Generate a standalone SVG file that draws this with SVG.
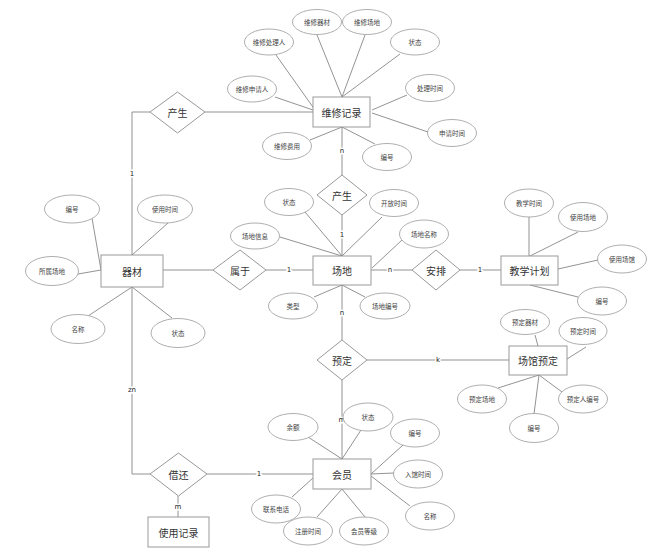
<svg xmlns="http://www.w3.org/2000/svg" width="667" height="553" viewBox="0 0 667 553">
<style>
.bg{fill:#fff}
.ent rect{fill:#fff;stroke:#999;stroke-width:1}
.rel polygon{fill:#fff;stroke:#999;stroke-width:1}
.att ellipse{fill:#fff;stroke:#999;stroke-width:0.8}
.et{font-family:"Noto Sans CJK SC","Noto Sans CJK JP",sans-serif;font-size:10px;fill:#333;text-anchor:middle;dominant-baseline:central}
.at{font-family:"Noto Sans CJK SC","Noto Sans CJK JP",sans-serif;font-size:6.5px;fill:#444;text-anchor:middle;dominant-baseline:central}
#conn line,#conn polyline{stroke:#777;stroke-width:0.8;fill:none}
.lb{font-family:"DejaVu Sans",sans-serif;font-size:7px;fill:#222;text-anchor:middle;dominant-baseline:central;stroke:#fff;stroke-width:3;paint-order:stroke}
</style>
<rect class="bg" width="667" height="553"/>
<g id="conn">
<!-- 维修记录 attrs -->
<line x1="317" y1="35" x2="342" y2="97"/>
<line x1="365" y1="35" x2="342" y2="97"/>
<line x1="400" y1="54" x2="342" y2="97"/>
<line x1="276" y1="55" x2="315" y2="110"/>
<line x1="275" y1="97" x2="313" y2="110"/>
<line x1="310" y1="140" x2="342" y2="127"/>
<line x1="375" y1="144" x2="342" y2="127"/>
<line x1="407" y1="95" x2="372" y2="110"/>
<line x1="428" y1="132" x2="372" y2="113"/>
<!-- 产生(top) -->
<polyline points="313,112 205,112"/>
<polyline points="150,112 132,112 132,255"/>
<!-- 维修记录 - 产生(mid) - 场地 -->
<line x1="342" y1="127" x2="342" y2="175"/>
<line x1="342" y1="215" x2="342" y2="256"/>
<!-- 场地 attrs -->
<line x1="305" y1="212" x2="342" y2="256"/>
<line x1="382" y1="217" x2="342" y2="256"/>
<line x1="280" y1="237" x2="342" y2="256"/>
<line x1="402" y1="240" x2="372" y2="268"/>
<line x1="314" y1="297" x2="342" y2="285"/>
<line x1="365" y1="297" x2="342" y2="285"/>
<!-- 器材 - 属于 - 场地 -->
<line x1="163" y1="270" x2="213" y2="270"/>
<line x1="266" y1="270" x2="313" y2="270"/>
<!-- 场地 - 安排 - 教学计划 -->
<line x1="371" y1="270" x2="412" y2="270"/>
<line x1="460" y1="270" x2="501" y2="270"/>
<!-- 教学计划 attrs -->
<line x1="529" y1="217" x2="529" y2="256"/>
<line x1="578" y1="232" x2="530" y2="256"/>
<line x1="598" y1="260" x2="558" y2="269"/>
<line x1="578" y1="297" x2="530" y2="285"/>
<!-- 场地 - 预定 -->
<line x1="342" y1="285" x2="342" y2="340"/>
<line x1="367" y1="360" x2="509" y2="360"/>
<line x1="342" y1="380" x2="342" y2="459"/>
<!-- 场馆预定 attrs -->
<line x1="535" y1="335" x2="538" y2="346"/>
<line x1="586" y1="347" x2="567" y2="359"/>
<line x1="498" y1="388" x2="539" y2="375"/>
<line x1="534" y1="414" x2="539" y2="375"/>
<line x1="562" y1="392" x2="539" y2="375"/>
<!-- 会员 attrs -->
<line x1="308" y1="437" x2="342" y2="459"/>
<line x1="361" y1="430" x2="342" y2="459"/>
<line x1="403" y1="445" x2="371" y2="474"/>
<line x1="394" y1="473" x2="371" y2="474"/>
<line x1="410" y1="506" x2="371" y2="476"/>
<line x1="292" y1="497" x2="313" y2="478"/>
<line x1="317" y1="517" x2="342" y2="489"/>
<line x1="365" y1="517" x2="342" y2="489"/>
<!-- 器材 attrs -->
<line x1="92" y1="218" x2="101" y2="270"/>
<line x1="168" y1="223" x2="132" y2="255"/>
<line x1="78" y1="274" x2="101" y2="270"/>
<line x1="88" y1="316" x2="132" y2="287"/>
<line x1="172" y1="318" x2="132" y2="287"/>
<!-- 器材 - 借还 - 会员 / 使用记录 -->
<polyline points="132,287 132,474 150,474"/>
<line x1="207" y1="474" x2="313" y2="474"/>
<line x1="178" y1="496" x2="178" y2="517"/>
<text class="lb" x="132" y="174">1</text>
<text class="lb" x="342" y="151">n</text>
<text class="lb" x="342" y="235">1</text>
<text class="lb" x="289" y="270">1</text>
<text class="lb" x="390" y="270">n</text>
<text class="lb" x="480" y="270">1</text>
<text class="lb" x="342" y="313">n</text>
<text class="lb" x="438" y="360">k</text>
<text class="lb" x="342" y="420">m</text>
<text class="lb" x="132" y="390">zn</text>
<text class="lb" x="259" y="474">1</text>
<text class="lb" x="178" y="507">m</text>
</g>
<!-- entities -->
<g id="weixiujilu" class="ent"><rect x="313" y="97" width="57" height="30"/><text class="et" x="341.5" y="112">维修记录</text></g>
<g id="changdi" class="ent"><rect x="313" y="256" width="58" height="29"/><text class="et" x="342" y="270.5">场地</text></g>
<g id="qicai" class="ent"><rect x="101" y="255" width="62" height="32"/><text class="et" x="132" y="271">器材</text></g>
<g id="jiaoxuejihua" class="ent"><rect x="501" y="256" width="57" height="29"/><text class="et" x="529.5" y="270.5">教学计划</text></g>
<g id="changguanyuding" class="ent"><rect x="509" y="346" width="58" height="29"/><text class="et" x="538" y="360.5">场馆预定</text></g>
<g id="huiyuan" class="ent"><rect x="313" y="459" width="58" height="30"/><text class="et" x="342" y="474">会员</text></g>
<g id="shiyongjilu" class="ent"><rect x="148" y="517" width="61" height="30"/><text class="et" x="178.5" y="532">使用记录</text></g>
<!-- relationships -->
<g id="chansheng1" class="rel"><polygon points="177.5,92 205,112 177.5,133 150,112"/><text class="et" x="177.5" y="112">产生</text></g>
<g id="chansheng2" class="rel"><polygon points="342,175 367,195 342,215 317,195"/><text class="et" x="342" y="195">产生</text></g>
<g id="shuyu" class="rel"><polygon points="240,250 266,270 240,290 213,270"/><text class="et" x="240" y="270">属于</text></g>
<g id="anpai" class="rel"><polygon points="436,250 460,270 436,290 412,270"/><text class="et" x="436" y="270">安排</text></g>
<g id="yuding" class="rel"><polygon points="342,340 367,360 342,380 317,360"/><text class="et" x="342" y="360">预定</text></g>
<g id="jiehuan" class="rel"><polygon points="178.5,453 207,474 178.5,496 150,474"/><text class="et" x="178.5" y="474">借还</text></g>
<!-- attributes of 维修记录 -->
<g id="a-wxqc" class="att"><ellipse cx="317" cy="22" rx="24.5" ry="12.5"/><text class="at" x="317" y="22">维修器材</text></g>
<g id="a-wxcd" class="att"><ellipse cx="367" cy="22" rx="24.5" ry="12.5"/><text class="at" x="367" y="22">维修场地</text></g>
<g id="a-wxclr" class="att"><ellipse cx="269" cy="42" rx="24.5" ry="13"/><text class="at" x="269" y="42">维修处理人</text></g>
<g id="a-wxzt" class="att"><ellipse cx="415" cy="42" rx="24.5" ry="13"/><text class="at" x="415" y="42">状态</text></g>
<g id="a-wxsqr" class="att"><ellipse cx="252" cy="89" rx="24.5" ry="13"/><text class="at" x="252" y="89">维修申请人</text></g>
<g id="a-clsj" class="att"><ellipse cx="430" cy="88" rx="24.5" ry="13.5"/><text class="at" x="430" y="88">处理时间</text></g>
<g id="a-sqsj" class="att"><ellipse cx="452" cy="133" rx="24.5" ry="13.5"/><text class="at" x="452" y="133">申请时间</text></g>
<g id="a-wxfy" class="att"><ellipse cx="287" cy="146" rx="24.5" ry="13.5"/><text class="at" x="287" y="146">维修费用</text></g>
<g id="a-wxbh" class="att"><ellipse cx="387" cy="157" rx="24.5" ry="13.5"/><text class="at" x="387" y="157">编号</text></g>
<!-- attributes of 场地 -->
<g id="a-cdzt" class="att"><ellipse cx="289" cy="202" rx="24.5" ry="13.5"/><text class="at" x="289" y="202">状态</text></g>
<g id="a-kfsj" class="att"><ellipse cx="394" cy="203" rx="24.5" ry="13.5"/><text class="at" x="394" y="203">开放时间</text></g>
<g id="a-cdxx" class="att"><ellipse cx="255" cy="236" rx="24.5" ry="13"/><text class="at" x="255" y="236">场地信息</text></g>
<g id="a-cdmc" class="att"><ellipse cx="424" cy="234" rx="24.5" ry="14"/><text class="at" x="424" y="234">场地名称</text></g>
<g id="a-lx" class="att"><ellipse cx="293" cy="306" rx="24.5" ry="13"/><text class="at" x="293" y="306">类型</text></g>
<g id="a-cdbh" class="att"><ellipse cx="385" cy="306" rx="25" ry="13"/><text class="at" x="385" y="306">场地编号</text></g>
<!-- attributes of 器材 -->
<g id="a-qcbh" class="att"><ellipse cx="72" cy="209" rx="27.5" ry="14"/><text class="at" x="72" y="209">编号</text></g>
<g id="a-sysj" class="att"><ellipse cx="165" cy="209" rx="27.5" ry="14"/><text class="at" x="165" y="209">使用时间</text></g>
<g id="a-sscd" class="att"><ellipse cx="52" cy="271" rx="26.5" ry="14.5"/><text class="at" x="52" y="271">所属场地</text></g>
<g id="a-qcmc" class="att"><ellipse cx="78" cy="329" rx="27" ry="14.5"/><text class="at" x="78" y="329">名称</text></g>
<g id="a-qczt" class="att"><ellipse cx="178" cy="333" rx="27" ry="14.5"/><text class="at" x="178" y="333">状态</text></g>
<!-- attributes of 教学计划 -->
<g id="a-jxsj" class="att"><ellipse cx="529" cy="203" rx="24.5" ry="14"/><text class="at" x="529" y="203">教学时间</text></g>
<g id="a-sycd" class="att"><ellipse cx="583" cy="217" rx="24.5" ry="14.5"/><text class="at" x="583" y="217">使用场地</text></g>
<g id="a-sycg" class="att"><ellipse cx="622" cy="259" rx="24.5" ry="14"/><text class="at" x="622" y="259">使用场馆</text></g>
<g id="a-jxbh" class="att"><ellipse cx="602" cy="301" rx="24.5" ry="14"/><text class="at" x="602" y="301">编号</text></g>
<!-- attributes of 场馆预定 -->
<g id="a-ydqc" class="att"><ellipse cx="525" cy="322" rx="24.5" ry="12.5"/><text class="at" x="525" y="322">预定器材</text></g>
<g id="a-ydsj" class="att"><ellipse cx="583" cy="331" rx="24" ry="13.5"/><text class="at" x="583" y="331">预定时间</text></g>
<g id="a-ydcd" class="att"><ellipse cx="482" cy="399" rx="24.5" ry="14"/><text class="at" x="482" y="399">预定场地</text></g>
<g id="a-ydbh" class="att"><ellipse cx="534" cy="428" rx="24.5" ry="14.5"/><text class="at" x="534" y="428">编号</text></g>
<g id="a-ydrbh" class="att"><ellipse cx="583" cy="399" rx="24.5" ry="14"/><text class="at" x="583" y="399">预定人编号</text></g>
<!-- attributes of 会员 -->
<g id="a-ye" class="att"><ellipse cx="293" cy="427" rx="25" ry="13.5"/><text class="at" x="293" y="427">余额</text></g>
<g id="a-hyzt" class="att"><ellipse cx="368" cy="417" rx="25" ry="14"/><text class="at" x="368" y="417">状态</text></g>
<g id="a-hybh" class="att"><ellipse cx="415" cy="433" rx="24.5" ry="14"/><text class="at" x="415" y="433">编号</text></g>
<g id="a-rgsj" class="att"><ellipse cx="418" cy="474" rx="24.5" ry="14"/><text class="at" x="418" y="474">入馆时间</text></g>
<g id="a-hymc" class="att"><ellipse cx="430" cy="516" rx="24.5" ry="14"/><text class="at" x="430" y="516">名称</text></g>
<g id="a-lxdh" class="att"><ellipse cx="276" cy="509" rx="24.5" ry="14"/><text class="at" x="276" y="509">联系电话</text></g>
<g id="a-zcsj" class="att"><ellipse cx="308" cy="531" rx="24.5" ry="14"/><text class="at" x="308" y="531">注册时间</text></g>
<g id="a-hydj" class="att"><ellipse cx="364" cy="531" rx="24.5" ry="14"/><text class="at" x="364" y="531">会员等级</text></g>
</svg>
